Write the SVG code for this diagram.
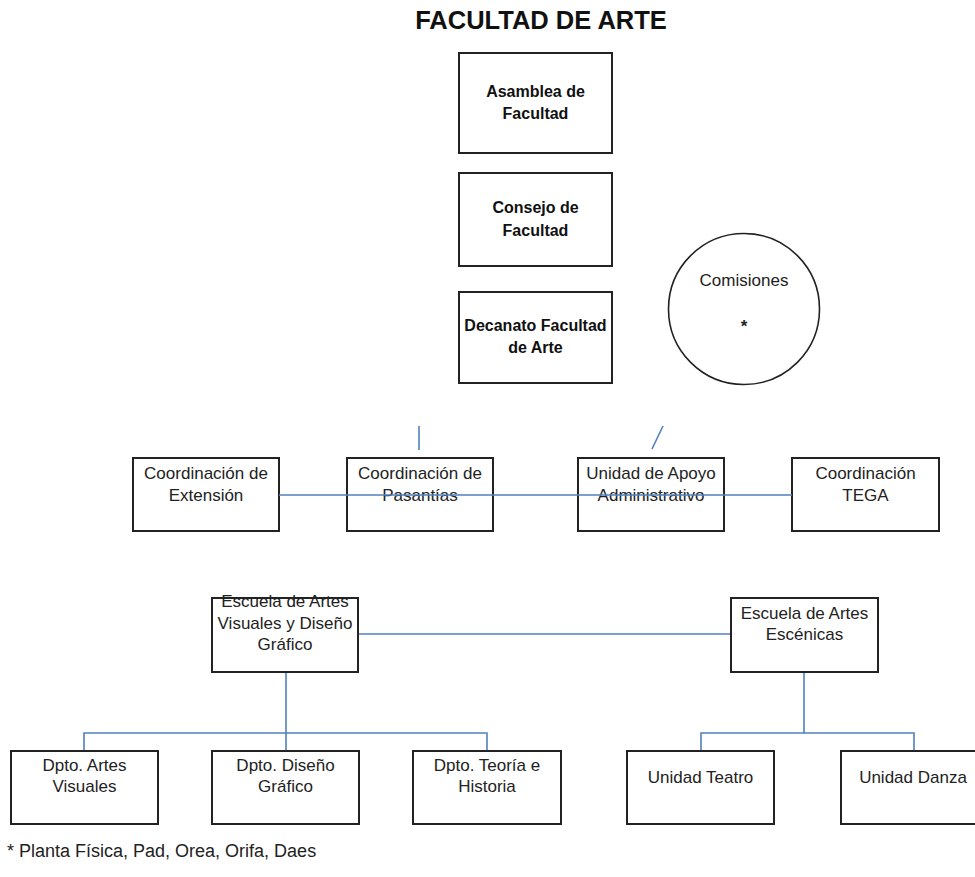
<svg xmlns="http://www.w3.org/2000/svg" width="975" height="877" viewBox="0 0 975 877">
<style>
.box{fill:#fff;stroke:#222;stroke-width:2}
.t{font-family:"Liberation Sans",Arial,sans-serif;font-size:17px;fill:#222;text-anchor:middle}
.b{font-family:"Liberation Sans",Arial,sans-serif;font-size:16px;font-weight:bold;fill:#111;text-anchor:middle}
.ln{stroke:#4F81BD;stroke-width:1.6;fill:none}
</style>
<rect width="975" height="877" fill="#fff"/>
<text x="541" y="29" font-family="Liberation Sans, Arial, sans-serif" font-size="25.5" font-weight="bold" fill="#111" text-anchor="middle">FACULTAD DE ARTE</text>

<g id="asamblea"><rect class="box" x="459" y="53" width="153" height="100"/><text class="b" x="535.5" y="97">Asamblea de</text><text class="b" x="535.5" y="119">Facultad</text></g>
<g id="consejo"><rect class="box" x="459" y="173" width="153" height="93"/><text class="b" x="535.5" y="213">Consejo de</text><text class="b" x="535.5" y="236">Facultad</text></g>
<g id="decanato"><rect class="box" x="459" y="292" width="153" height="91"/><text class="b" x="535.5" y="331">Decanato Facultad</text><text class="b" x="535.5" y="353">de Arte</text></g>
<g id="comisiones"><circle cx="744" cy="309" r="75.5" fill="#fff" stroke="#222" stroke-width="1.6"/><text class="t" x="744" y="286">Comisiones</text><text class="t" x="744" y="332" font-size="18" font-weight="bold">*</text></g>

<g id="conectores">
<line class="ln" x1="419" y1="426" x2="419" y2="450"/>
<line class="ln" x1="663" y1="426" x2="652" y2="449"/>
<line class="ln" x1="286" y1="672" x2="286" y2="751"/>
<polyline class="ln" points="84,751 84,733 487,733 487,751"/>
<line class="ln" x1="358" y1="634" x2="731" y2="634"/>
<line class="ln" x1="804" y1="672" x2="804" y2="733"/>
<polyline class="ln" points="701,751 701,733 914,733 914,751"/>
</g>

<g id="extension"><rect class="box" x="133" y="458" width="146" height="73"/><text class="t" x="206" y="479">Coordinación de</text><text class="t" x="206" y="501">Extensión</text></g>
<g id="pasantias"><rect class="box" x="347" y="458" width="146" height="73"/><text class="t" x="420" y="479">Coordinación de</text><text class="t" x="420" y="501">Pasantías</text></g>
<g id="apoyo"><rect class="box" x="578" y="458" width="146" height="73"/><text class="t" x="651" y="479">Unidad de Apoyo</text><text class="t" x="651" y="501">Administrativo</text></g>
<g id="tega"><rect class="box" x="792" y="458" width="147" height="73"/><text class="t" x="865.5" y="479">Coordinación</text><text class="t" x="865.5" y="501">TEGA</text></g>
<line class="ln" x1="279" y1="495" x2="792" y2="495"/>

<g id="escuela-av"><rect class="box" x="212" y="598" width="146" height="74"/><text class="t" x="285" y="607">Escuela de Artes</text><text class="t" x="285" y="629">Visuales y Diseño</text><text class="t" x="285" y="650">Gráfico</text></g>
<g id="escuela-ae"><rect class="box" x="731" y="598" width="147" height="74"/><text class="t" x="804.5" y="619">Escuela de Artes</text><text class="t" x="804.5" y="640">Escénicas</text></g>

<g id="dpto-av"><rect class="box" x="11" y="751" width="147" height="73"/><text class="t" x="84.5" y="771">Dpto. Artes</text><text class="t" x="84.5" y="792">Visuales</text></g>
<g id="dpto-dg"><rect class="box" x="212" y="751" width="147" height="73"/><text class="t" x="285.5" y="771">Dpto. Diseño</text><text class="t" x="285.5" y="792">Gráfico</text></g>
<g id="dpto-th"><rect class="box" x="413" y="751" width="148" height="73"/><text class="t" x="487" y="771">Dpto. Teoría e</text><text class="t" x="487" y="792">Historia</text></g>
<g id="teatro"><rect class="box" x="627" y="751" width="147" height="73"/><text class="t" x="700.5" y="783">Unidad Teatro</text></g>
<g id="danza"><rect class="box" x="841" y="751" width="147" height="73"/><text class="t" x="913" y="783">Unidad Danza</text></g>

<text x="7" y="857" font-family="Liberation Sans, Arial, sans-serif" font-size="18" fill="#222">* Planta Física, Pad, Orea, Orifa, Daes</text>
</svg>
